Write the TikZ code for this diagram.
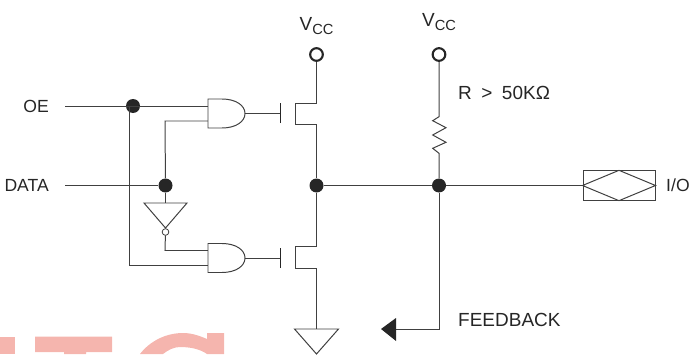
\documentclass[tikz,border=0pt]{standalone}
\usepackage{fontspec}
\setmainfont{Liberation Sans}
\usetikzlibrary{positioning}
\definecolor{wirecol}{gray}{0.25}
\definecolor{markcol}{HTML}{F5B5AE}
\tikzset{
    wire/.style={draw=wirecol, line width=0.85pt},
    junction/.style={circle, fill=black!85, inner sep=0pt, minimum size=0.42cm},
    rail/.style={circle, draw=black!85, fill=white, line width=1.8pt, inner sep=0pt, minimum size=0.38cm},
    bubble/.style={circle, draw=wirecol, fill=white, line width=0.7pt, inner sep=0pt, minimum size=0.2cm},
    label/.style={inner sep=0pt, font=\fontsize{16.2}{18}\selectfont, text=black!85},
    small label/.style={label, font=\fontsize{15}{18}\selectfont},
    andgate/.pic={
        \draw[wire, fill=white] (0,14.5) -- (14,14.5) .. controls (28,14.5) and (37,8) .. (37,0)
            .. controls (37,-8) and (28,-14.5) .. (14,-14.5) -- (0,-14.5) -- cycle;
    }
}
\begin{document}
\begin{tikzpicture}[x=0.03cm, y=0.03cm]
    \useasboundingbox (0,0) rectangle (689,354);
    \clip (0,0) rectangle (689,354);

    % marks along the bottom edge
    \fill[markcol] (0,0) rectangle (15,17.5);
    \fill[markcol] (35,17.5) -- (112,17.5) -- (112,2) -- (86,2) -- (86,0) -- (64,0) -- (64,2) -- (35,2) -- cycle;
    \fill[markcol] (140,0) .. controls (150,13) and (166,21) .. (183,21) .. controls (192,21) and (200,18) .. (207,15)
        -- (207,21) -- (224,21) -- (224,0) -- (207,0) .. controls (200,5) and (190,7) .. (180,7)
        .. controls (174,7) and (168,4) .. (163,0) -- cycle;

    \coordinate (oe start) at (65,248);
    \coordinate (data start) at (65,168.5);
    \coordinate (oe bend) at (129,248);
    \coordinate (oe low) at (129,89);
    \coordinate (and1 a) at (208,248);
    \coordinate (and1 b) at (208,233);
    \coordinate (data up) at (165,233);
    \coordinate (and2 a) at (208,103.5);
    \coordinate (and2 b) at (208,89);
    \coordinate (inv low) at (165,103.5);
    \coordinate (and1 out) at (245,240.5);
    \coordinate (and2 out) at (245,96);
    \coordinate (gate1) at (280.5,240.5);
    \coordinate (gate2) at (280.5,96);
    \coordinate (fet1 d) at (316.5,251);
    \coordinate (fet1 dl) at (295,251);
    \coordinate (fet1 s) at (316.5,230);
    \coordinate (fet1 sl) at (295,230);
    \coordinate (fet2 d) at (316.5,107.5);
    \coordinate (fet2 dl) at (295,107.5);
    \coordinate (fet2 s) at (316.5,86);
    \coordinate (fet2 sl) at (295,86);
    \coordinate (gnd) at (316.5,25);
    \coordinate (res top) at (439,237.3);
    \coordinate (res low) at (439,200.7);
    \coordinate (fb bend) at (439,25);
    \coordinate (fb tip) at (396,25);

    \node[junction] (oe dot) at (133,248) {};
    \node[junction] (data dot) at (165.5,168.5) {};
    \node[junction] (out dot) at (316.5,168.5) {};
    \node[junction] (res dot) at (439,168.5) {};
    \node[rail] (vcc1) at (316.5,299.5) {};
    \node[rail] (vcc2) at (439,299.5) {};

    % inputs
    \draw[wire] (oe start) -- (and1 a);
    \draw[wire] (oe bend) -- (oe low) -- (and2 b);
    \draw[wire] (data start) -- (data dot);
    \draw[wire] (data dot) -- (data up) -- (and1 b);

    % inverter
    \coordinate (inv l) at (144,151);
    \coordinate (inv r) at (187,151);
    \coordinate (inv tip) at (165.5,126);
    \draw[wire] (data dot) -- (165.5,151);
    \draw[wire] (inv l) -- (inv r) -- (inv tip) -- cycle;
    \node[bubble] (inv bub) at (165.5,122) {};
    \draw[wire] (inv bub) -- (inv low) -- (and2 a);

    % gates
    \pic at (208,240.5) {andgate};
    \pic at (208,96) {andgate};
    \draw[wire] (and1 out) -- (gate1);
    \draw[wire] (and2 out) -- (gate2);
    \draw[line width=1.5pt, black!85] (280.5,231) -- (280.5,251);
    \draw[line width=1.5pt, black!85] (280.5,86) -- (280.5,106);

    % transistors
    \draw[wire] (vcc1) -- (fet1 d) -- (fet1 dl) -- (fet1 sl) -- (fet1 s) -- (out dot);
    \draw[wire] (out dot) -- (fet2 d) -- (fet2 dl) -- (fet2 sl) -- (fet2 s) -- (gnd);
    \draw[wire, fill=white] (294.5,25) -- (338.5,25) -- (316.5,0) -- cycle;

    % resistor
    \draw[wire] (vcc2) -- (res top) -- (432.7,233.3) -- (446,226.3) -- (432.7,219) -- (446,211.7) -- (432.7,205.7) -- (res low) -- (res dot);

    % output
    \node[draw=wirecol, line width=0.85pt, minimum width=2.16cm, minimum height=0.88cm, inner sep=0pt] (io box) at (619,168.5) {};
    \draw[wire] (out dot) -- (res dot) -- (io box);
    \draw[wire] (io box.west) -- (io box.north) -- (io box.east) -- (io box.south) -- cycle;

    % feedback
    \draw[wire] (res dot) -- (fb bend) -- (fb tip);
    \fill[black!85] (381,25) -- (396,36) -- (396,13) -- cycle;

    % labels
    \node[small label, anchor=east] (oe text) at (49,248) {OE};
    \node[small label, anchor=east] (data text) at (49,168.5) {DATA};
    \node[small label, anchor=west] (io text) at (666,168.5) {I/O};
    \node[label, anchor=west] (fb text) at (458,34) {FEEDBACK};
    \node[label, anchor=west] (res text) at (458,261) {R\enspace>\enspace50KΩ};
    \node[label] (vcc1 text) at (316.5,328) {V\raisebox{-0.45ex}{\fontsize{12.5}{14}\selectfont CC}};
    \node[label] (vcc2 text) at (439,332) {V\raisebox{-0.45ex}{\fontsize{12.5}{14}\selectfont CC}};
\end{tikzpicture}
\end{document}
